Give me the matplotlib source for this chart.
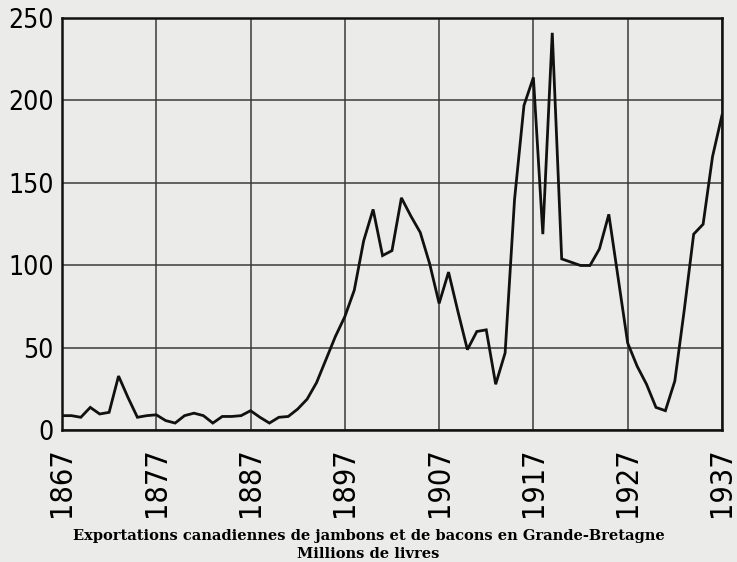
import matplotlib.pyplot as plt
import numpy as np

years = np.arange(1867, 1938)
exports = [
    9, 9, 8, 14, 10, 11, 33, 20, 8, 9,            # 1867-1876
    9.5, 6, 4.5, 9, 10.5, 9, 4.5, 8.5, 8.5, 9,     # 1877-1886
    12, 8, 4.5, 8, 8.5, 13, 19, 29, 43, 57,        # 1887-1896
    69, 85, 115, 134, 106, 109, 141, 130, 120, 101,  # 1897-1906
    77, 96, 72, 49, 60, 61, 28, 47, 140, 197,      # 1907-1916
    214, 119, 241, 104, 102, 100, 100, 110, 131, 92,  # 1917-1926
    53, 39, 28, 14, 12, 30, 73, 119, 125, 166,     # 1927-1936
    191,                                           # 1937
]
xticks = np.arange(1867, 1938, 10)
yticks = np.arange(0, 251, 50)
caption = ("Exportations canadiennes de jambons et de bacons en Grande-Bretagne\n"
           "Millions de livres")

bg = "#ebebea"
plt.rcParams["font.family"] = ["DejaVu Sans"]

fig = plt.figure(figsize=(7.37, 5.62), dpi=100, facecolor=bg)
ax = fig.add_axes([0.0841, 0.234, 0.8955, 0.734], facecolor=bg)

ax.plot(years, exports, color="#111111", linewidth=2.0, solid_joinstyle="miter")

ax.set_xlim(1867, 1937)
ax.set_ylim(0, 250)
ax.set_xticks(xticks)
ax.set_yticks(yticks)
ax.set_xticklabels([str(x) for x in xticks], rotation=90, fontsize=22,
                   fontstretch="condensed")
ax.set_yticklabels([str(y) for y in yticks], fontsize=19,
                   fontstretch="condensed")
ax.tick_params(axis="x", length=0, pad=12)
ax.tick_params(axis="y", length=0, pad=6)
ax.grid(True, color="#3a3a3a", linewidth=1.1)
for s in ax.spines.values():
    s.set_linewidth(1.8)
    s.set_color("#111111")

fig.text(0.5, 0.03, caption, ha="center", va="center", fontsize=10.5,
         fontweight="bold", family="DejaVu Serif", linespacing=1.4)

fig.savefig("out.png", dpi=100, facecolor=bg)
